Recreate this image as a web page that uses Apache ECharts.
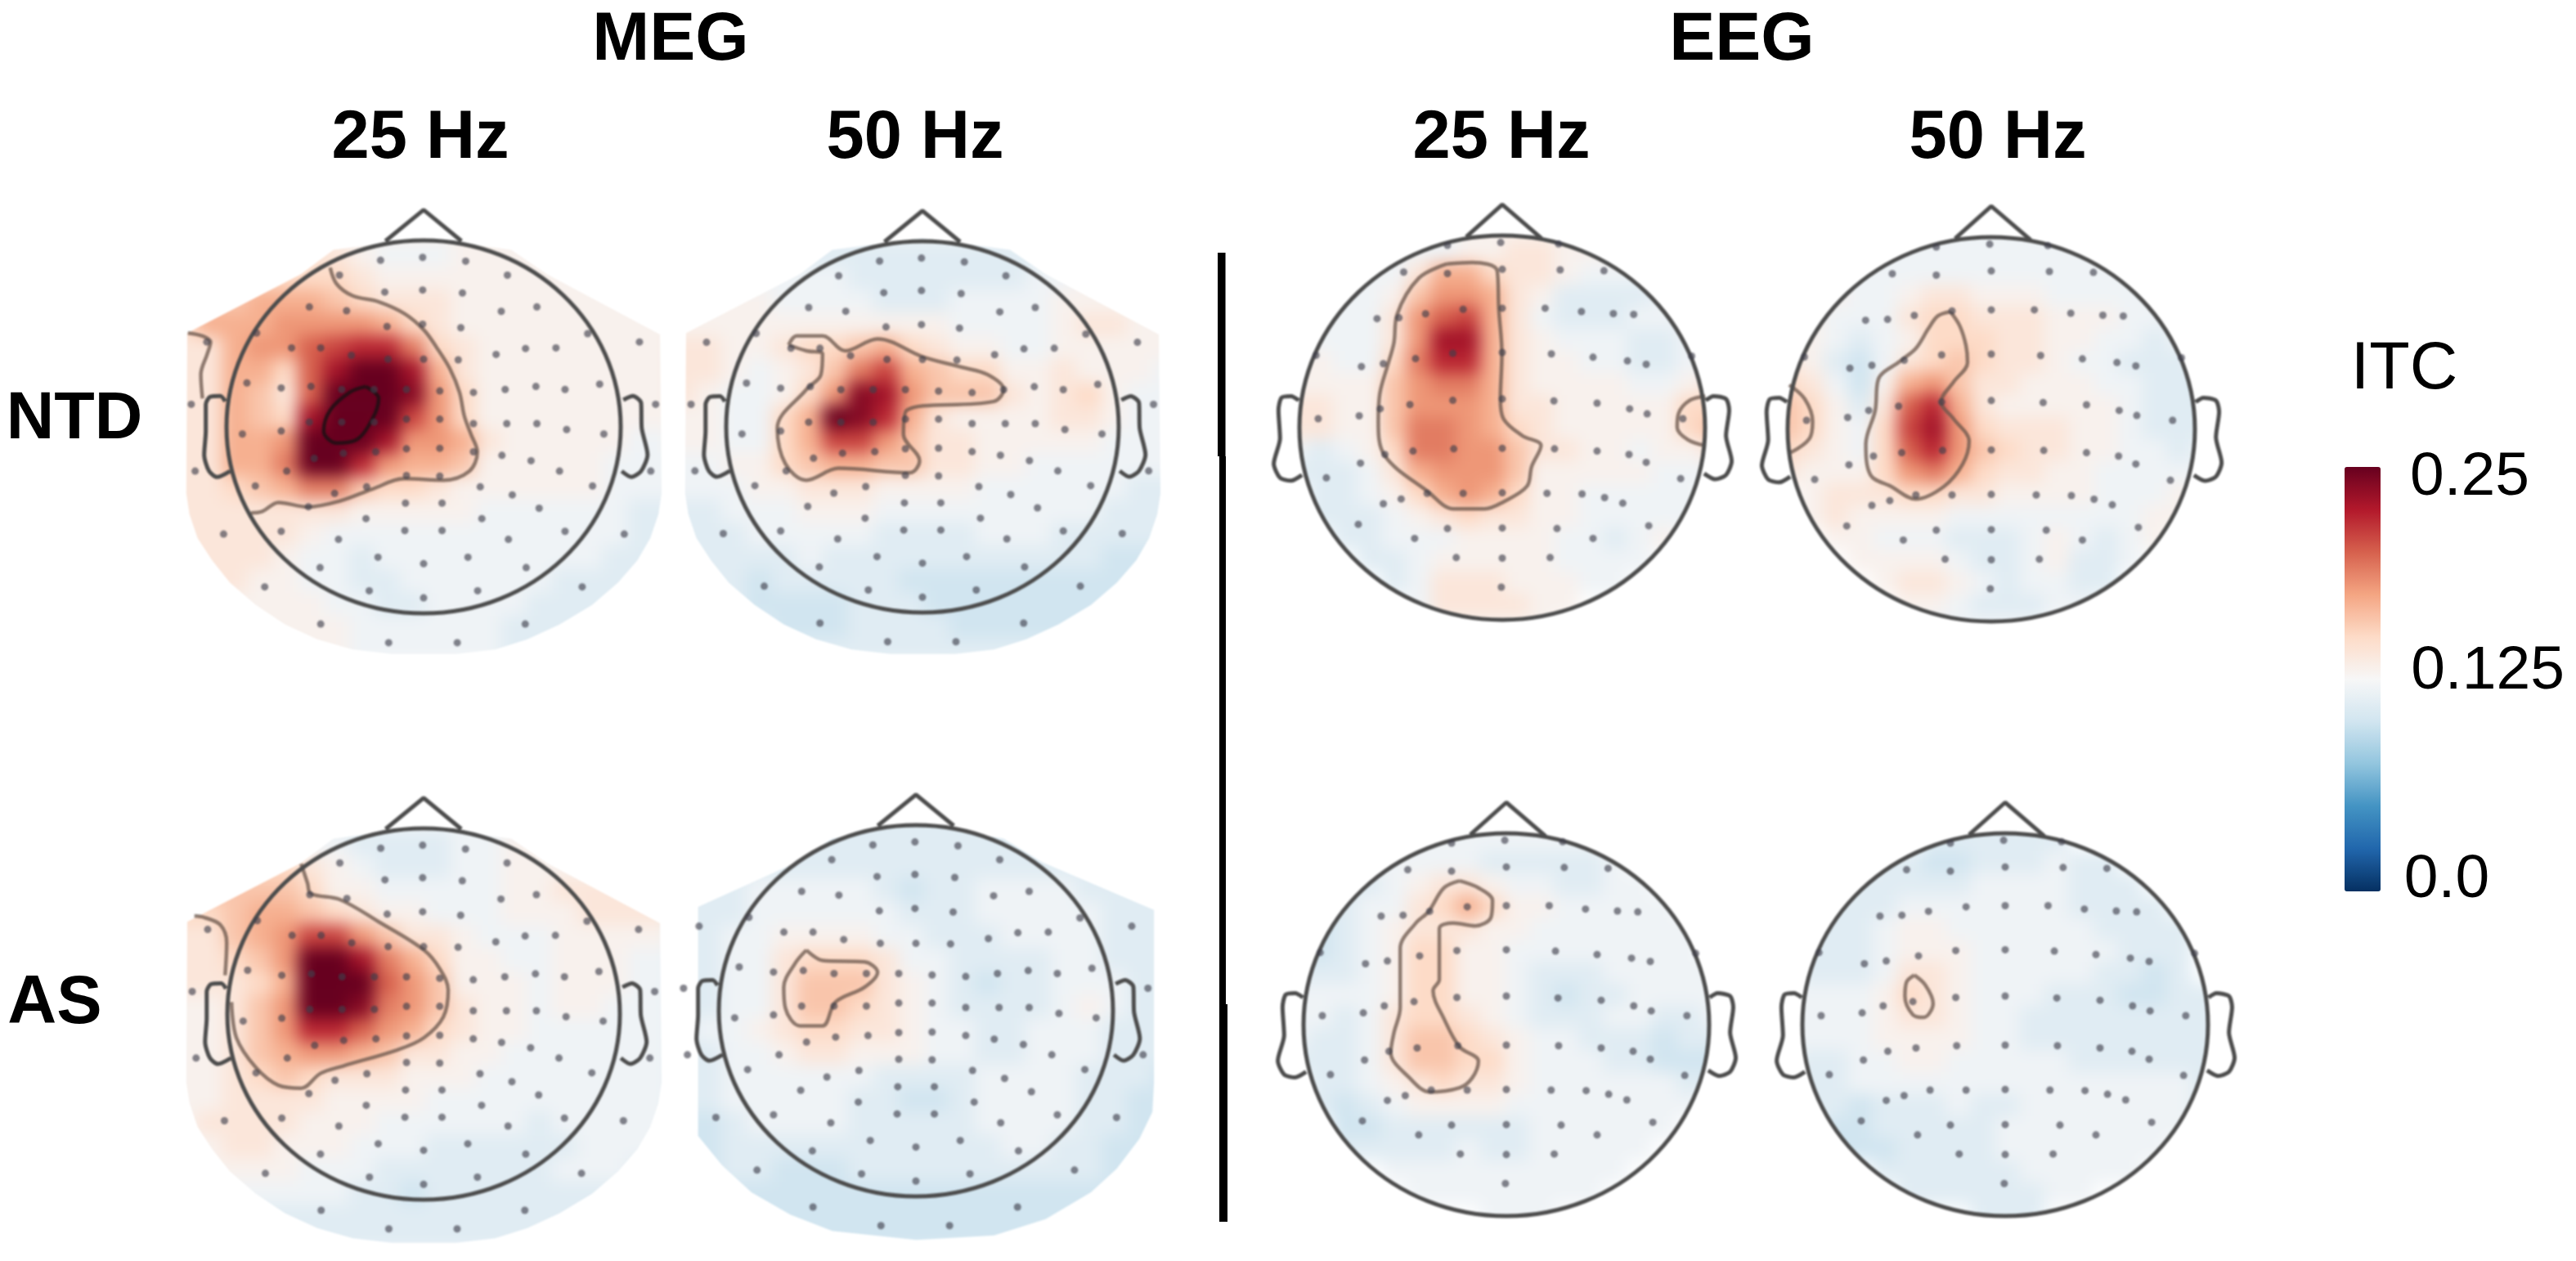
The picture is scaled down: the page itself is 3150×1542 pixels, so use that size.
<!DOCTYPE html>
<html><head><meta charset="utf-8">
<style>
html,body{margin:0;padding:0;background:#fff}
#c{width:3150px;height:1542px}
#c canvas:nth-of-type(1){filter:blur(10px)}
#c canvas:nth-of-type(2){filter:blur(1px)}
</style>
<script src="https://cdn.jsdelivr.net/npm/echarts@6/dist/echarts.min.js"></script>
</head><body><div id="c"></div>
<script>
// ITC values in hundredths, 20 x 20 cells per map (0 = no data)
const megNtd25=[
[13,13,13,13,13,13,13,13,13,13,13,13,13,13,13,13,13,13,13,13],
[13,13,13,13,13,13,13,13,13,13,13,13,13,13,13,13,13,13,13,13],
[13,13,13,13,13,14,14,13,12,12,12,13,13,13,13,13,13,13,13,13],
[15,15,15,15,15,15,15,14,13,13,13,13,13,13,13,13,13,13,13,13],
[16,16,16,17,17,17,16,15,14,14,14,13,13,13,13,13,13,13,13,13],
[15,17,17,17,18,18,18,18,17,15,14,13,13,13,13,13,13,13,13,13],
[14,14,17,18,18,20,21,22,22,19,15,14,13,13,13,13,13,13,13,13],
[14,14,17,17,15,20,23,25,25,23,17,14,13,13,13,13,13,13,13,13],
[14,14,17,16,14,20,25,25,25,24,18,15,13,13,13,13,13,13,13,13],
[14,14,17,16,15,23,25,25,25,21,18,15,13,13,13,13,13,13,13,13],
[14,14,17,17,18,25,25,25,23,18,18,17,14,13,13,13,13,13,12,12],
[14,14,17,17,19,25,25,22,18,17,17,16,13,13,13,13,13,12,12,12],
[14,14,15,16,17,19,19,16,15,15,14,13,13,13,13,13,13,12,12,12],
[14,14,14,14,14,14,14,13,13,13,13,13,12,12,12,12,12,12,11,11],
[14,14,14,14,14,13,12,12,12,12,12,12,12,12,12,12,12,12,11,11],
[14,14,14,14,13,12,12,11,12,12,12,12,12,12,12,12,12,11,11,11],
[13,14,14,13,13,12,12,11,11,12,12,12,12,12,12,11,11,11,11,11],
[13,13,13,13,13,13,12,12,11,11,12,12,12,12,11,11,11,11,11,11],
[13,13,13,13,13,13,13,12,12,12,12,12,12,11,11,11,11,11,11,11],
[13,13,13,13,13,13,13,12,12,12,12,12,12,11,11,11,11,11,11,11]];
const megNtd50=[
[12,12,12,12,12,12,12,12,12,12,12,12,12,12,12,12,12,12,12,12],
[12,12,12,12,12,12,12,12,12,12,12,12,12,12,12,12,12,12,12,12],
[11,11,11,11,11,11,11,11,11,11,11,11,11,11,11,11,11,11,11,11],
[12,12,12,12,12,12,12,11,11,11,11,11,11,11,12,12,13,13,13,13],
[13,13,13,13,12,12,12,12,11,11,11,12,12,12,12,13,13,13,13,13],
[13,13,13,13,13,13,13,13,13,13,13,12,12,12,12,13,14,14,13,13],
[14,14,13,13,14,15,15,16,17,15,14,13,13,12,12,13,13,13,13,13],
[14,14,13,12,13,14,16,19,21,17,16,15,15,13,13,14,13,13,13,12],
[14,13,12,12,13,15,18,24,23,18,16,16,16,14,13,14,15,13,12,12],
[13,13,12,12,15,17,25,24,22,17,14,13,13,13,13,14,14,13,12,12],
[13,13,12,12,15,17,21,21,18,16,14,14,13,13,13,13,13,12,12,12],
[12,12,13,13,15,16,17,17,16,16,14,14,13,13,12,12,12,12,12,12],
[12,12,12,13,13,14,14,14,13,13,13,13,12,12,12,12,12,12,11,11],
[11,11,12,12,12,13,13,13,12,12,12,12,12,12,12,12,12,11,11,11],
[11,11,11,12,12,12,12,12,11,11,11,11,12,12,12,11,11,11,11,11],
[11,11,11,11,11,12,11,11,11,11,11,11,11,11,11,11,11,10,10,10],
[11,11,11,10,11,11,11,11,11,10,10,10,10,10,10,10,10,10,10,10],
[11,11,11,10,10,10,10,11,11,11,10,10,10,10,10,10,10,10,10,10],
[11,11,11,11,10,10,10,11,11,11,11,10,10,10,10,10,10,10,10,10],
[11,11,11,11,11,11,11,11,11,11,11,11,11,11,11,11,11,11,11,11]];
const eegNtd25=[
[0,0,0,0,0,0,0,0,0,0,0,0,0,0,0,0,0,0,0,0],
[0,0,0,0,0,0,0,12,13,13,13,13,13,0,0,0,0,0,0,0],
[0,0,0,0,0,12,12,12,13,13,14,14,13,13,13,0,0,0,0,0],
[0,0,0,0,12,12,14,17,17,15,14,14,13,12,12,12,0,0,0,0],
[0,0,0,12,12,13,16,18,18,17,14,13,11,11,11,11,12,0,0,0],
[0,0,12,12,12,14,18,20,21,17,14,12,11,11,11,12,12,12,0,0],
[0,12,12,12,12,14,18,23,23,17,14,13,12,12,12,11,11,12,12,0],
[0,13,13,12,12,15,19,22,22,17,14,13,13,12,12,11,11,12,12,0],
[0,13,13,13,13,16,18,19,19,17,14,13,13,13,13,12,12,13,14,0],
[0,14,14,13,13,16,18,18,18,17,14,14,13,13,13,13,13,15,15,0],
[0,14,14,13,13,16,19,19,18,17,15,14,13,13,13,13,13,15,16,0],
[0,12,11,12,13,15,19,19,18,18,16,14,14,13,13,12,13,13,14,0],
[0,11,11,11,12,14,17,18,18,18,16,13,13,13,13,13,12,12,12,0],
[0,0,11,11,12,13,15,17,18,17,15,13,13,12,12,12,12,12,0,0],
[0,0,11,11,11,12,13,14,15,14,14,13,13,12,12,12,12,12,0,0],
[0,0,0,11,11,12,12,12,13,13,13,13,12,12,11,12,13,0,0,0],
[0,0,0,0,11,11,12,13,13,13,13,13,12,12,12,12,0,0,0,0],
[0,0,0,0,0,11,12,14,14,14,13,13,13,12,12,0,0,0,0,0],
[0,0,0,0,0,0,12,14,14,14,14,13,13,0,0,0,0,0,0,0],
[0,0,0,0,0,0,0,13,13,13,13,13,0,0,0,0,0,0,0,0]];
const eegNtd50=[
[0,0,0,0,0,0,0,0,0,0,0,0,0,0,0,0,0,0,0,0],
[0,0,0,0,0,0,0,12,12,12,12,12,12,0,0,0,0,0,0,0],
[0,0,0,0,0,12,12,12,12,12,12,12,12,12,12,0,0,0,0,0],
[0,0,0,0,12,12,12,12,12,12,12,12,12,12,12,12,0,0,0,0],
[0,0,0,13,12,12,13,14,14,13,13,13,12,12,12,12,12,0,0,0],
[0,0,13,12,12,12,14,15,15,14,14,14,13,13,13,12,12,12,0,0],
[0,13,13,12,11,12,13,15,15,15,14,14,13,13,12,12,11,12,12,0],
[0,14,13,11,10,12,14,15,16,15,14,14,13,12,12,11,11,11,12,0],
[0,15,14,12,10,13,17,18,16,14,14,13,13,13,12,12,11,11,11,0],
[0,16,15,13,11,14,20,22,17,14,13,13,13,13,13,12,11,11,11,0],
[0,16,15,13,12,15,21,23,18,15,14,14,14,13,13,12,11,11,11,0],
[0,15,14,13,12,15,20,22,18,16,15,14,14,13,13,12,12,11,12,0],
[0,14,13,13,13,15,18,19,17,15,14,14,13,13,12,12,12,12,12,0],
[0,0,13,14,14,14,15,15,14,14,13,13,13,13,12,12,12,13,0,0],
[0,0,13,14,13,13,13,13,12,12,12,12,12,12,12,12,13,13,0,0],
[0,0,0,13,13,12,12,12,11,11,11,12,13,12,11,12,13,0,0,0],
[0,0,0,0,13,13,13,13,12,11,11,12,13,11,11,12,0,0,0,0],
[0,0,0,0,0,13,14,14,13,12,11,12,12,11,11,0,0,0,0,0],
[0,0,0,0,0,0,13,13,12,11,11,11,12,12,0,0,0,0,0,0],
[0,0,0,0,0,0,0,12,12,12,12,12,0,0,0,0,0,0,0,0]];
const megAs25=[
[12,12,12,12,12,12,12,12,12,12,12,12,12,12,12,12,12,12,12,12],
[12,12,12,12,12,12,12,12,12,12,12,12,12,12,12,12,12,12,12,12],
[12,12,12,12,12,12,12,11,11,11,11,12,12,13,13,13,13,13,13,13],
[15,15,15,15,15,14,13,12,11,11,11,12,12,13,13,13,13,13,13,13],
[16,16,16,16,16,15,13,13,12,12,12,12,12,13,13,14,14,14,14,14],
[15,15,16,17,17,16,15,14,13,13,12,12,12,13,13,13,14,14,14,14],
[14,14,16,17,18,21,21,18,16,14,14,13,12,12,12,13,13,13,13,13],
[14,14,15,16,18,25,25,23,19,17,15,13,13,12,12,13,13,13,12,12],
[14,14,14,15,17,25,25,25,20,18,16,13,13,13,12,13,13,13,12,12],
[13,13,14,16,18,25,25,24,19,18,16,14,13,13,12,13,13,12,12,12],
[13,13,14,16,18,22,22,20,18,17,15,14,13,13,12,12,12,12,12,12],
[13,13,14,16,17,18,18,17,16,14,14,13,13,12,12,12,12,12,12,12],
[13,13,14,15,16,15,14,14,14,13,13,13,12,12,12,12,12,12,12,12],
[13,13,14,14,14,14,13,13,13,13,12,12,12,12,12,12,12,12,12,12],
[13,14,14,14,14,13,13,13,12,12,12,12,12,12,11,12,12,12,12,12],
[13,13,14,14,13,13,13,12,12,12,11,11,11,11,11,11,12,12,12,12],
[13,13,13,13,13,12,12,12,11,11,11,11,11,11,11,12,12,12,11,11],
[13,13,12,12,12,12,12,11,11,10,11,11,11,11,11,11,11,11,11,11],
[12,12,12,11,11,11,11,11,11,11,11,11,11,11,11,11,11,11,11,11],
[11,11,11,11,11,11,11,11,11,11,11,11,11,11,11,11,11,11,11,11]];
const megAs50=[
[11,11,11,11,11,11,11,11,11,11,11,11,11,11,11,11,11,11,11,11],
[11,11,11,11,11,11,11,11,11,11,11,11,11,11,11,11,11,11,11,11],
[11,11,11,11,11,11,11,11,11,11,11,11,11,11,11,11,11,11,11,11],
[11,11,11,11,11,11,11,11,11,11,11,11,11,11,11,11,11,11,11,11],
[11,11,11,12,12,12,12,12,11,10,11,11,12,12,12,12,11,11,11,11],
[11,11,11,12,12,12,12,12,12,11,11,11,12,12,12,12,12,11,11,11],
[11,11,12,12,13,13,13,13,12,12,11,11,11,12,12,12,12,11,11,11],
[11,11,12,12,14,15,15,15,14,12,12,11,11,11,11,12,12,11,11,11],
[11,11,12,12,14,16,16,16,14,13,12,11,10,11,11,12,12,12,11,11],
[11,11,12,12,14,16,16,15,14,13,12,11,11,11,11,12,13,12,11,11],
[11,12,12,13,14,15,15,14,14,13,12,12,11,11,12,12,12,11,11,11],
[11,11,12,12,13,14,14,13,13,13,12,12,11,11,12,12,12,11,11,11],
[11,11,12,12,12,12,12,12,11,11,11,11,12,12,12,12,11,11,11,10],
[11,11,12,12,12,12,12,11,11,10,10,11,12,12,12,12,11,11,10,10],
[10,10,11,12,12,12,12,11,11,11,11,11,12,12,12,12,11,11,10,10],
[10,10,11,11,11,11,11,11,11,11,11,11,11,12,12,11,11,10,10,10],
[10,10,11,11,10,10,10,11,11,11,11,11,11,11,11,11,11,10,10,10],
[10,10,10,10,10,10,10,10,10,10,10,10,10,10,10,10,10,10,10,10],
[10,10,10,10,10,10,10,10,10,10,10,10,10,10,10,10,10,10,10,10],
[10,10,10,10,10,10,10,10,10,10,10,10,10,10,10,10,10,10,10,10]];
const eegAs25=[
[0,0,0,0,0,0,0,0,0,0,0,0,0,0,0,0,0,0,0,0],
[0,0,0,0,0,0,0,0,12,12,12,12,0,0,0,0,0,0,0,0],
[0,0,0,0,0,0,12,12,12,12,12,12,12,12,0,0,0,0,0,0],
[0,0,0,0,12,12,12,12,12,11,11,11,11,11,12,0,0,0,0,0],
[0,0,0,11,11,12,13,14,14,13,12,12,11,11,12,12,0,0,0,0],
[0,0,11,11,12,12,14,15,17,15,13,13,12,12,12,12,12,0,0,0],
[0,0,10,11,12,13,14,14,14,13,13,12,12,12,12,12,12,12,0,0],
[0,11,10,11,12,13,15,15,13,13,12,12,12,12,12,12,12,12,0,0],
[0,11,11,11,12,13,15,15,13,13,12,11,11,11,12,12,12,12,12,0],
[0,12,12,12,12,13,15,15,13,13,12,11,10,11,11,12,12,12,12,0],
[0,12,12,11,12,14,15,15,14,13,12,11,11,11,12,12,11,11,12,0],
[0,12,11,11,12,14,16,16,15,14,13,12,12,11,11,11,10,11,11,0],
[0,11,11,11,12,14,16,16,15,15,13,12,12,12,11,11,10,10,10,0],
[0,0,11,11,12,13,14,15,14,14,13,12,12,12,12,12,12,11,11,0],
[0,0,11,10,11,12,13,13,13,13,12,12,12,12,12,12,12,12,0,0],
[0,0,0,10,10,11,11,11,11,11,11,12,12,12,12,12,12,0,0,0],
[0,0,0,11,11,11,11,11,12,11,11,12,12,12,12,12,0,0,0,0],
[0,0,0,0,0,12,12,12,12,12,12,12,12,12,12,0,0,0,0,0],
[0,0,0,0,0,0,12,12,12,12,12,12,12,12,0,0,0,0,0,0],
[0,0,0,0,0,0,0,0,0,12,12,12,0,0,0,0,0,0,0,0]];
const eegAs50=[
[0,0,0,0,0,0,0,0,0,0,0,0,0,0,0,0,0,0,0,0],
[0,0,0,0,0,0,0,0,11,11,11,11,0,0,0,0,0,0,0,0],
[0,0,0,0,0,0,0,11,11,11,11,11,11,0,0,0,0,0,0,0],
[0,0,0,0,0,11,11,10,10,11,11,11,12,11,11,0,0,0,0,0],
[0,0,0,0,11,11,11,11,11,12,12,12,12,11,11,11,0,0,0,0],
[0,0,0,11,11,11,12,12,12,12,12,12,12,11,11,11,11,0,0,0],
[0,0,11,11,11,12,13,13,12,12,12,12,12,12,11,11,11,11,0,0],
[0,0,11,11,11,12,13,13,13,12,12,12,12,12,12,11,11,11,0,0],
[0,0,11,11,11,12,14,14,13,12,12,12,12,12,11,11,10,11,0,0],
[0,12,12,12,12,13,15,14,13,12,12,12,11,11,11,10,10,11,11,0],
[0,12,12,12,12,13,14,14,13,12,12,11,11,11,11,11,11,11,11,0],
[0,12,12,12,12,13,13,13,13,12,12,11,11,11,11,11,11,11,11,0],
[0,12,11,11,12,12,13,13,12,12,12,12,12,11,11,11,11,11,11,0],
[0,0,11,11,12,12,12,12,12,12,12,12,12,12,12,12,12,12,11,0],
[0,0,11,11,10,11,11,11,12,11,11,12,12,12,12,12,12,12,11,0],
[0,0,0,10,10,11,11,11,11,11,12,12,12,12,12,12,12,12,0,0],
[0,0,0,10,10,10,11,11,11,11,12,12,12,12,12,12,12,0,0,0],
[0,0,0,0,0,11,11,11,11,11,11,12,12,12,12,12,0,0,0,0],
[0,0,0,0,0,0,11,11,11,11,11,11,12,12,0,0,0,0,0,0],
[0,0,0,0,0,0,0,0,0,11,11,11,0,0,0,0,0,0,0,0]];

// Sensor positions on the head plane
const megSensors=[[645,215],[775,205],[908,218],[518,265],[1037,265],[658,322],[775,315],[898,325],[425,372],[540,385],[1018,387],[1128,372],[665,438],[775,430],[893,442],[262,460],[1285,462],[108,490],[1445,490],[370,510],[460,510],[1093,512],[1187,510],[555,535],[668,548],[778,548],[885,550],[1002,532],[232,628],[338,645],[430,640],[525,650],[625,650],[725,650],[828,655],[932,660],[1030,650],[1125,640],[1215,650],[1322,632],[60,700],[1495,700],[218,800],[338,790],[425,760],[525,760],[625,760],[725,750],[828,750],[932,765],[1035,765],[1128,765],[1220,785],[1335,800],[440,882],[530,865],[630,860],[725,850],[828,848],[932,860],[1020,872],[1110,890],[1198,925],[72,925],[1480,925],[355,925],[258,975],[602,978],[503,1000],[725,940],[828,942],[953,978],[1052,1005],[1300,975],[422,1045],[722,1033],[835,1033],[1135,1050],[600,1085],[958,1085],[160,1137],[338,1128],[515,1155],[720,1125],[835,1125],[1040,1155],[1215,1128],[1398,1137],[637,1215],[778,1237],[915,1215],[458,1250],[1095,1250],[287,1315],[610,1328],[945,1328],[1268,1315],[778,1352],[460,1440],[1092,1440],[670,1503],[882,1503]];
const eegSensors=[[770,165],[600,175],[955,170],[460,270],[600,275],[775,260],[960,262],[1100,265],[375,435],[445,432],[530,418],[650,402],[775,398],[912,398],[1028,410],[1130,417],[1195,420],[180,565],[325,605],[395,595],[498,577],[617,558],[775,555],[932,560],[1065,572],[1175,585],[1235,597],[1380,568],[187,790],[318,780],[385,755],[480,740],[617,725],[775,720],[940,727],[1078,735],[1182,755],[1238,773],[1352,790],[322,948],[400,917],[490,905],[620,897],[775,895],[942,897],[1078,905],[1180,917],[1235,945],[213,1000],[1345,1003],[395,1092],[452,1075],[535,1055],[650,1055],[775,1053],[918,1055],[1030,1057],[1102,1070],[1160,1090],[315,1165],[600,1180],[775,1178],[950,1180],[1243,1170],[495,1215],[1065,1215],[628,1283],[775,1285],[928,1283],[772,1388]];

// Head outlines
const megNose=[[660,150],[778,45],[895,150]];
const megEarL=[[165,690],[150,672],[118,675],[105,700],[105,790],[100,870],[115,925],[140,945],[180,925]];
const megEarR=[[1395,685],[1425,672],[1450,695],[1452,780],[1470,870],[1450,925],[1420,945],[1390,925]];
const eegNose=[[660,145],[775,30],[900,150]];
const eegEarL=[[125,725],[100,710],[70,715],[60,760],[65,860],[45,950],[65,1000],[100,1010],[135,990]];
const eegEarR=[[1425,725],[1450,710],[1490,720],[1500,760],[1490,850],[1508,940],[1490,990],[1455,1005],[1420,985]];

// Contour lines
const cNtdMeg25=[[[490,240],[510,295],[560,335],[640,355],[720,395],[780,450],[820,510],[860,580],[890,660],[905,740],[925,800],[945,860],[920,925],[840,955],[720,950],[620,985],[520,1025],[420,1045],[330,1030],[280,1060],[245,1065]],[[50,460],[95,470],[120,490],[110,530],[90,600],[95,680]]];
const cNtdMeg25Inner=[[[600,640],[640,680],[620,750],[570,820],[510,830],[470,790],[490,720],[550,660],[600,640]]];
const cNtdMeg50=[[[365,500],[390,470],[470,470],[540,520],[640,480],[780,540],[900,575],[980,600],[1030,650],[1000,690],[730,720],[720,800],[770,890],[740,930],[520,915],[420,955],[355,900],[330,780],[420,650],[465,600],[470,530],[420,520],[365,500]]];
const cNtdEeg25=[[[600,240],[680,235],[760,265],[765,400],[775,560],[770,720],[780,790],[840,850],[900,885],[870,960],[855,1030],[780,1085],[720,1110],[620,1110],[540,1050],[400,920],[380,800],[385,700],[410,600],[430,520],[440,420],[510,290],[600,240]],[[1425,710],[1375,725],[1340,770],[1335,820],[1370,865],[1425,885]]];
const cNtdEeg50=[[[640,410],[670,460],[690,530],[695,590],[650,660],[610,730],[650,790],[700,870],[680,950],[620,1030],[530,1075],[450,1030],[385,990],[370,880],[400,760],[410,650],[480,585],[530,540],[570,470],[600,425],[640,410]],[[125,670],[175,720],[200,800],[190,860],[130,910]]];
const cAsMeg25=[[[400,265],[420,330],[430,365],[520,385],[640,460],[780,555],[830,620],[855,690],[840,780],[780,850],[700,890],[530,945],[460,970],[400,1020],[330,1010],[260,950],[200,850],[185,730]],[[70,440],[100,445],[150,470],[170,530],[165,640]]];
const cAsMeg50=[[[420,555],[470,590],[600,595],[640,630],[600,680],[510,730],[470,810],[400,810],[355,750],[350,680],[385,600],[420,555]]];
const cAsEeg25=[[[640,340],[700,365],[745,410],[740,470],[690,500],[620,490],[575,510],[575,690],[555,730],[590,830],[640,930],[700,980],[680,1040],[640,1075],[545,1090],[480,1040],[420,950],[430,880],[450,790],[450,580],[500,490],[540,450],[590,365],[640,340]]];
const cAsEeg50=[[[525,675],[560,710],[585,775],[555,825],[520,815],[495,750],[500,700],[525,675]]];

// MEG field edges on the crop plane
const megEdgeA=[[48,460],[400,262],[500,180],[778,140],[1050,180],[1160,262],[1510,465],[1515,1000],[1505,1070],[1480,1150],[1440,1225],[1380,1300],[1300,1375],[1200,1440],[1100,1490],[1000,1525],[880,1540],[680,1540],[560,1525],[450,1490],[350,1440],[260,1375],[180,1300],[125,1225],[80,1150],[55,1070],[45,1000]];
const megEdgeB=[[85,410],[380,265],[500,180],[760,130],[1030,180],[1150,260],[1495,420],[1495,1000],[1490,1100],[1450,1190],[1380,1290],[1300,1370],[1160,1460],[1000,1515],[760,1530],[500,1500],[370,1445],[250,1370],[160,1280],[85,1180]];

const rdBu=['#053061','#2166ac','#4393c3','#92c5de','#d1e5f0','#f7f7f7','#fddbc7','#f4a582','#d6604d','#b2182b','#67001f'];

const headTexts=[
 {text:'MEG',x:820,y:50,s:84,b:1},{text:'EEG',x:2130,y:50,s:84,b:1},
 {text:'25 Hz',x:514,y:170,s:83,b:1},{text:'50 Hz',x:1119,y:170,s:83,b:1},{text:'25 Hz',x:1836,y:170,s:83,b:1},{text:'50 Hz',x:2443,y:170,s:83,b:1},
 {text:'NTD',x:91,y:514,s:81,b:1},{text:'AS',x:67,y:1228,s:83,b:1},
 {text:'ITC',x:2940,y:453,s:81,b:0},{text:'0.25',x:3020,y:584,s:75,b:0},{text:'0.125',x:3042,y:821,s:75,b:0},{text:'0.0',x:2992,y:1076,s:75,b:0}];

const maps=[
 {cells:megNtd25,contours:cNtdMeg25,inner:cNtdMeg25Inner,crop:[210,240,620,570],head:[518,522,241,228],k:'meg',edge:megEdgeA,outer:[-120,1568]},
 {cells:megNtd50,contours:cNtdMeg50,crop:[820,240,620,570],head:[1128,522,240,227],k:'meg',edge:megEdgeA,outer:[0,1760]},
 {cells:eegNtd25,contours:cNtdEeg25,crop:[1540,240,600,540],head:[1837,523,248,235],k:'eeg'},
 {cells:eegNtd50,contours:cNtdEeg50,crop:[2140,240,600,540],head:[2435,525,249,235],k:'eeg'},
 {cells:megAs25,contours:cAsMeg25,crop:[210,960,620,570],head:[518,1240,240,227],k:'meg',edge:megEdgeA,outer:[-120,1568]},
 {cells:megAs50,contours:cAsMeg50,crop:[820,960,620,570],head:[1120,1236,241,227],k:'meg',edge:megEdgeB,outer:[0,1760]},
 {cells:eegAs25,contours:cAsEeg25,crop:[1540,960,600,540],head:[1842,1253,248,234],k:'eeg'},
 {cells:eegAs50,contours:cAsEeg50,crop:[2140,960,600,540],head:[2452,1253,248,234],k:'eeg'}];

const planes={
 meg:{c:[778,776],r:[609,628],sensors:megSensors,parts:[megNose,megEarL,megEarR]},
 eeg:{c:[775,822],r:[648,682],sensors:eegSensors,parts:[eegNose,eegEarL,eegEarR]}};

const grid=[],xAxis=[],yAxis=[],series=[],heatIdx=[];
const idx20=Array.from({length:20},(_,i)=>String(i));
const noAxis={show:false};
function addGrid(rect,x,y){
 grid.push({left:rect[0],top:rect[1],width:rect[2],height:rect[3],containLabel:false,show:false});
 xAxis.push(Object.assign({gridIndex:grid.length-1},noAxis,x));
 yAxis.push(Object.assign({gridIndex:grid.length-1},noAxis,y));
 return grid.length-1;
}
const plane={type:'value',min:0,max:1568,scale:false,splitLine:{show:false}};
const lineCol='#4c4c4c';
const contourLine=(c,g,color,width)=>({type:'line',xAxisIndex:g,yAxisIndex:g,data:c,zlevel:1,z:2,silent:true,showSymbol:false,symbol:'none',smooth:0.35,clip:false,lineStyle:{color,width}});
maps.forEach(m=>{
 const heatG=addGrid(m.crop,{type:'category',data:idx20},{type:'category',data:idx20,inverse:true});
 const cropG=addGrid(m.crop,plane,Object.assign({},plane,{inverse:true}));
 const p=planes[m.k],[cx,cy,rx,ry]=m.head;
 const headG=addGrid([cx-p.c[0]/p.r[0]*rx,cy-p.c[1]/p.r[1]*ry,1568/p.r[0]*rx,1568/p.r[1]*ry],plane,Object.assign({},plane,{inverse:true}));
 const data=[];
 m.cells.forEach((row,j)=>row.forEach((v,i)=>{if(v>0)data.push([i,j,v/100]);}));
 heatIdx.push(series.length);
 series.push({type:'heatmap',xAxisIndex:heatG,yAxisIndex:heatG,data,zlevel:0,progressive:0,silent:true,itemStyle:{borderWidth:0}});
 if(m.edge){
  series.push({type:'custom',xAxisIndex:cropG,yAxisIndex:cropG,zlevel:1,z:1,silent:true,clip:false,data:[[0,0]],
   renderItem:(pr,api)=>{
    const [l,r]=m.outer,t=-120,b=1720;
    const outer=[[l,t],[r,t],[r,b],[l,b],[l,t]];
    const inner=m.edge.slice().reverse();
    const pts=outer.concat(inner,[inner[0],[l,t]]).map(q=>api.coord(q));
    return {type:'polygon',shape:{points:pts},style:{fill:'#fff',stroke:null}};
   }});
 }else{
  series.push({type:'custom',xAxisIndex:headG,yAxisIndex:headG,zlevel:1,z:1,silent:true,clip:false,data:[[p.c[0],p.c[1],p.r[0],p.r[1]]],
   renderItem:(pr,api)=>{
    const c=api.coord([api.value(0),api.value(1)]),s=api.size([api.value(2),api.value(3)]);
    return {type:'ellipse',shape:{cx:c[0],cy:c[1],rx:s[0]+48,ry:s[1]+48},style:{fill:null,stroke:'#fff',lineWidth:96}};
   }});
 }
 m.contours.forEach(c=>series.push(contourLine(c,cropG,'rgba(105,85,75,0.75)',4.5)));
 (m.inner||[]).forEach(c=>series.push(contourLine(c,cropG,'rgba(30,15,20,0.85)',4.5)));
 series.push({type:'custom',xAxisIndex:headG,yAxisIndex:headG,zlevel:1,z:3,silent:true,clip:false,data:[[p.c[0],p.c[1],p.r[0],p.r[1]]],
  renderItem:(pr,api)=>{
   const c=api.coord([api.value(0),api.value(1)]),s=api.size([api.value(2),api.value(3)]);
   return {type:'ellipse',shape:{cx:c[0],cy:c[1],rx:s[0],ry:s[1]},style:{fill:null,stroke:lineCol,lineWidth:5}};
  }});
 p.parts.forEach(part=>series.push({type:'line',xAxisIndex:headG,yAxisIndex:headG,data:part,zlevel:1,z:3,silent:true,showSymbol:false,symbol:'none',clip:false,smooth:part.length>3?0.25:0,lineStyle:{color:lineCol,width:5}}));
 series.push({type:'scatter',xAxisIndex:headG,yAxisIndex:headG,data:p.sensors,zlevel:1,z:4,silent:true,symbolSize:9,clip:false,itemStyle:{color:'rgba(62,62,75,0.8)'}});
});

const chart=echarts.init(document.getElementById('c'),null,{renderer:'canvas',width:3150,height:1542});
chart.setOption({
 animation:false,backgroundColor:'#fff',
 grid,xAxis,yAxis,series,
 title:headTexts.map(t=>({text:t.text,left:t.x,top:t.y,textAlign:'center',textVerticalAlign:'middle',zlevel:2,padding:0,
   textStyle:{fontFamily:'"Liberation Sans"',fontSize:t.s,fontWeight:t.b?'bold':'normal',color:'#000'}})),
 visualMap:{type:'continuous',min:0,max:0.25,seriesIndex:heatIdx,show:true,calculable:false,hoverLink:false,realtime:false,left:2867,top:571,itemWidth:44,itemHeight:519,text:['',''],showLabel:false,padding:0,zlevel:2,inRange:{color:rdBu}},
 graphic:[
  {type:'line',zlevel:2,silent:true,shape:{x1:1493.8,y1:309,x2:1493.8,y2:558},style:{stroke:'#000',lineWidth:9.5}},
  {type:'line',zlevel:2,silent:true,shape:{x1:1495,y1:558,x2:1495,y2:1228},style:{stroke:'#000',lineWidth:8}},
  {type:'line',zlevel:2,silent:true,shape:{x1:1496,y1:1228,x2:1496,y2:1494},style:{stroke:'#000',lineWidth:10}}]
});
</script></body></html>
